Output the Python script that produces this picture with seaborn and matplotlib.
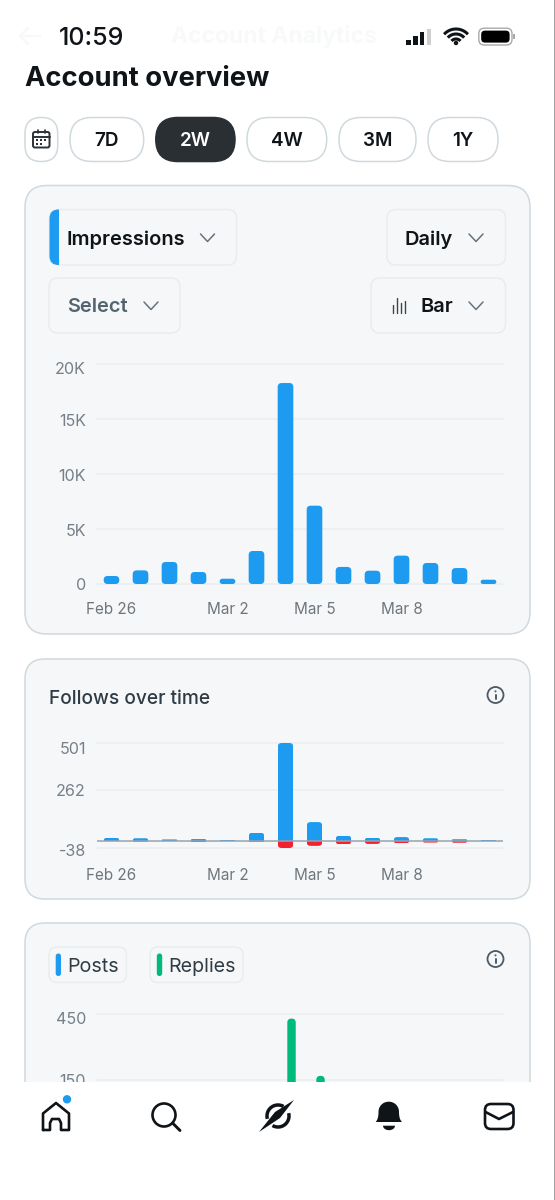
import numpy as np
import pandas as pd
import matplotlib.pyplot as plt
import seaborn as sns
from matplotlib.patches import FancyBboxPatch, Rectangle, Circle, PathPatch
from matplotlib.path import Path
from matplotlib.transforms import Bbox, TransformedBbox, ScaledTranslation

W, H = 555, 1200

days = ['Feb 26', 'Feb 27', 'Feb 28', 'Mar 1', 'Mar 2', 'Mar 3', 'Mar 4',
        'Mar 5', 'Mar 6', 'Mar 7', 'Mar 8', 'Mar 9', 'Mar 10', 'Mar 11']
shown_days = ['Feb 26', 'Mar 2', 'Mar 5', 'Mar 8']

impressions = [730, 1240, 2000, 1090, 480, 3000, 18270, 7120, 1550, 1210, 2580, 1910, 1450, 390]
impression_ticks = [0, 5000, 10000, 15000, 20000]
impression_labels = ['0', '5K', '10K', '15K', '20K']

follows = [15, 12, 6, 8, 4, 41, 501, 95, 26, 15, 18, 12, 7, 3]
unfollows = [-1, -5, -2, -8, -1, -6, -38, -27, -20, -17, -14, -10, -11, -4]
follow_ticks = [-38, 262, 501]

# only the two tallest replies show above the nav bar, the rest is hidden
posts = [0] * 14
replies = [0, 0, 0, 0, 0, 0, 428, 170, 0, 0, 0, 0, 0, 0]
post_ticks = [150, 450]

range_labels = ['7D', '2W', '4W', '3M', '1Y']

BLUE = '#1d9bf0'
RED = '#f4212e'
GREEN = '#00ba7c'
INK = '#0f1419'
CARD = '#f6f7f8'
CARD_EDGE = '#cfd9de'
CHIP_EDGE = '#e8edf0'
GRID = '#ebeff2'
TICK_Y = '#75808a'
TICK_X = '#6e767d'

sns.set_theme(style='white')
plt.rcParams['font.family'] = ['Inter', 'DejaVu Sans']

fig = plt.figure(figsize=(W / 100, H / 100), dpi=100, facecolor='white')


def px_axes(left, top, right, bottom, zorder=1):
    return fig.add_axes([left / W, 1 - bottom / H, (right - left) / W, (bottom - top) / H],
                        zorder=zorder)


def overlay(zorder):
    ax = px_axes(0, 0, W, H, zorder=zorder)
    ax.set_xlim(0, W)
    ax.set_ylim(H, 0)
    ax.axis('off')
    ax.patch.set_visible(False)
    return ax


def box(ax, x0, y0, x1, y1, r, fc='none', ec='none', lw=1.0, **kw):
    p = FancyBboxPatch((x0, y0), x1 - x0, y1 - y0, boxstyle=f'round,pad=0,rounding_size={r}',
                       fc=fc, ec=ec, lw=lw, **kw)
    ax.add_patch(p)
    return p


def chevron(ax, x, y, color='#66737f'):
    ax.plot([x - 7, x, x + 7], [y - 4, y + 3.5, y - 4], color=color, lw=1.1,
            solid_capstyle='round', solid_joinstyle='round')


def info_icon(ax, x, y):
    ax.add_patch(Circle((x, y), 8, fc='none', ec='#4b5a66', lw=1.3))
    ax.plot([x, x], [y - 0.5, y + 4], color='#4b5a66', lw=1.4, solid_capstyle='round')
    ax.add_patch(Circle((x, y - 3.7), 1, fc='#4b5a66', ec='none'))


def round_bars(ax, radius, flat_base=False):
    # seaborn gives square bars, swap each for a rounded one of the same size
    x0, x1 = ax.get_xlim()
    y0, y1 = ax.get_ylim()
    ext = ax.get_window_extent()
    x_per_px = (x1 - x0) / ext.width
    y_per_px = (y1 - y0) / ext.height
    for bar in list(ax.patches):
        x, w, y, h = bar.get_x(), bar.get_width(), bar.get_y(), bar.get_height()
        color = bar.get_facecolor()
        bar.remove()
        if h == 0:
            continue
        lo, hi = min(y, y + h), max(y, y + h)
        r = min(radius, (hi - lo) / y_per_px * (1 if flat_base else 0.5))
        low, high = lo, hi
        if flat_base:
            # push the rounded end past zero and cut it off there
            if h > 0:
                low = lo - r * y_per_px
            else:
                high = hi + r * y_per_px
        p = FancyBboxPatch((x, low), w, high - low,
                           boxstyle=f'round,pad=0,rounding_size={r * x_per_px}',
                           mutation_aspect=y_per_px / x_per_px,
                           fc=color, ec='none', lw=0, zorder=2)
        ax.add_patch(p)
        if flat_base:
            p.set_clip_box(TransformedBbox(Bbox([[x, lo], [x + w, hi]]), ax.transData))


def style_chart(ax, yticks, ylabels, y_shift, ylim, xpad=13, xlabels=True):
    ax.patch.set_visible(False)
    ax.set_xlim(-0.5, 13.5)
    ax.set_ylim(*ylim)
    ax.set_xlabel('')
    ax.set_ylabel('')
    ax.set_yticks(yticks, ylabels)
    if xlabels:
        ax.set_xticks([days.index(d) for d in shown_days], shown_days)
    else:
        ax.set_xticks([])
    ax.tick_params(axis='x', length=0, pad=xpad, labelsize=11, labelcolor=TICK_X)
    ax.tick_params(axis='y', length=0, pad=8, labelsize=11.6, labelcolor=TICK_Y)
    ax.yaxis.grid(True, color=GRID, lw=1.1)
    ax.xaxis.grid(False)
    ax.set_axisbelow(True)
    for gl in ax.get_ygridlines():
        gl.set_clip_on(False)
    for lab, dy in zip(ax.get_yticklabels(), y_shift):
        lab.set_transform(lab.get_transform() + ScaledTranslation(0, -dy / 100, fig.dpi_scale_trans))
    sns.despine(ax=ax, left=True, bottom=True)


ui = overlay(0)

# status bar and faded header
ui.text(59, 38.5, '10:59', fontsize=18, fontweight='medium', color=INK, va='center')
ui.text(171, 37, 'Account Analytics', fontsize=16.5, fontweight='bold', color='#f8f9f9', va='center')
ui.plot([20, 40], [36, 36], color='#f8f8f8', lw=1.6)
ui.plot([28, 20, 28], [28, 36, 44], color='#f8f8f8', lw=1.6)
for i, (top, col) in enumerate(zip([40, 36, 32, 29], [INK, INK, INK, '#cfcfcf'])):
    ui.add_patch(Rectangle((406 + i * 6.9, top), 4.6, 45 - top, fc=col, ec='none'))
for rad in [16, 11, 6]:
    t = np.radians(np.linspace(-48, 48, 30))
    ui.plot(456 + rad * np.sin(t), 45 - rad * np.cos(t), color=INK, lw=2.2, solid_capstyle='butt')
ui.add_patch(Circle((456, 43), 2.2, fc=INK, ec='none'))
box(ui, 478.8, 28.2, 512, 45, 5.5, ec='#a9a9a9', lw=1.0)
box(ui, 481.2, 30.6, 509.6, 42.6, 3.8, fc='black')
ui.add_patch(Rectangle((513.4, 34), 1.4, 5, fc='#a9a9a9', ec='none'))

ui.text(25, 79.5, 'Account overview', fontsize=19.7, fontweight='bold', color=INK, va='center')

# range pills
box(ui, 25, 117.5, 57.7, 161.5, 16, fc='white', ec=CARD_EDGE, lw=1.1)
box(ui, 33, 132, 49.5, 147.5, 2, ec='#2b3238', lw=1.4)
ui.plot([33, 49.5], [136.5, 136.5], color='#2b3238', lw=1.4)
ui.plot([37.5, 37.5], [130, 133], color='#2b3238', lw=1.2)
ui.plot([45, 45], [130, 133], color='#2b3238', lw=1.2)
ui.scatter([37, 41, 45, 37, 41], [140, 140, 140, 144, 144], s=2.2, color='#2b3238', lw=0, marker='s')
pill_x = [(70, 143.7), (155.8, 235), (247, 326.7), (339, 416), (428, 498)]
for lab, (a, b) in zip(range_labels, pill_x):
    active = lab == '2W'
    box(ui, a, 117.5, b, 161.5, 22, fc='#292f33' if active else 'white',
        ec='#292f33' if active else CARD_EDGE, lw=1.1)
    ui.text((a + b) / 2, 141, lab, fontsize=13.6, fontweight='semibold',
            color='white' if active else INK, ha='center', va='center')

# cards
box(ui, 25, 185.5, 530, 634, 22, fc=CARD, ec=CARD_EDGE, lw=1.1)
box(ui, 25, 659, 530, 899, 20, fc=CARD, ec=CARD_EDGE, lw=1.1)
box(ui, 25, 923, 530, 1300, 20, fc=CARD, ec=CARD_EDGE, lw=1.1)

# dropdowns
box(ui, 49.5, 209.5, 236.5, 265, 9, ec=CHIP_EDGE, lw=1.1)
tab = box(ui, 49.5, 209.5, 236.5, 265, 9, fc=BLUE)
tab.set_clip_path(Rectangle((49, 205), 9.5, 65, transform=ui.transData))
ui.text(67, 239.5, 'Impressions', fontsize=14.4, fontweight='semibold', color=INK, va='center')
chevron(ui, 207.5, 238)
box(ui, 387, 209.5, 505.5, 265, 9, ec=CHIP_EDGE, lw=1.1)
ui.text(405, 239.5, 'Daily', fontsize=14.4, fontweight='semibold', color=INK, va='center')
chevron(ui, 476, 238)
box(ui, 49, 278, 180, 333, 9, ec=CHIP_EDGE, lw=1.1)
ui.text(67, 307.5, 'Select', fontsize=14.4, fontweight='semibold', color='#536471', va='center')
chevron(ui, 151, 306)
box(ui, 371, 278, 505.5, 333, 9, ec=CHIP_EDGE, lw=1.1)
for dx, top in zip([393, 397, 401, 405], [305, 298, 303, 301]):
    ui.plot([dx, dx], [top, 313], color='#3c4750', lw=1.0)
ui.text(420.5, 307.5, 'Bar', fontsize=14.4, fontweight='semibold', color=INK, va='center')
chevron(ui, 476, 306)

ui.text(49, 699.5, 'Follows over time', fontsize=13.8, fontweight='medium', color='#2f3b45', va='center')
info_icon(ui, 495.5, 695)

box(ui, 49, 947, 126.4, 982.5, 8, ec=CHIP_EDGE, lw=1.1)
box(ui, 55.7, 953.5, 61, 976, 2.6, fc=BLUE)
ui.text(67, 967, 'Posts', fontsize=14.2, color='#2f3b45', va='center')
box(ui, 150, 947, 243, 982.5, 8, ec=CHIP_EDGE, lw=1.1)
box(ui, 156.8, 953.5, 162.2, 976, 2.6, fc=GREEN)
ui.text(168, 967, 'Replies', fontsize=14.2, color='#2f3b45', va='center')
info_icon(ui, 495.5, 959)

# impressions chart
ax1 = px_axes(97, 364, 503, 584)
df1 = pd.DataFrame({'day': days, 'value': impressions})
sns.barplot(data=df1, x='day', y='value', order=days, color=BLUE, saturation=1, width=0.54, ax=ax1)
style_chart(ax1, impression_ticks, impression_labels, [0, 0.5, 1, 0.5, 4], (0, 20000))
round_bars(ax1, 4)

# follows chart
ax2 = px_axes(97, 743, 503, 848)
df2 = pd.DataFrame({'day': days * 2, 'value': follows + unfollows,
                    'kind': ['follow'] * 14 + ['unfollow'] * 14})
sns.barplot(data=df2, x='day', y='value', order=days, hue='kind', palette=[BLUE, RED], dodge=False,
            saturation=1, width=0.54, legend=False, ax=ax2)
style_chart(ax2, follow_ticks, [str(v) for v in follow_ticks], [2, 0.7, 5], (-38, 501), xpad=14.5)
round_bars(ax2, 4, flat_base=True)
ax2.axhline(0, color='#94a4b1', lw=1.1, zorder=3)

# posts and replies chart, runs on under the nav bar
ax3 = px_axes(97, 1013.7, 503, 1113.6)
df3 = pd.DataFrame({'day': days * 2, 'value': posts + replies,
                    'kind': ['Posts'] * 14 + ['Replies'] * 14})
sns.barplot(data=df3, x='day', y='value', order=days, hue='kind', palette=[BLUE, GREEN], saturation=1,
            width=0.83, gap=0.3, legend=False, ax=ax3)
style_chart(ax3, post_ticks, [str(v) for v in post_ticks], [0, 4], (0, 450), xlabels=False)
round_bars(ax3, 4)

# nav bar on top of everything
nav = overlay(5)
nav.add_patch(Rectangle((0, 1081.7), W, H - 1081.7, fc='white', ec='none'))
home = [(43, 1130), (43, 1113.5), (56, 1103), (69, 1113.5), (69, 1130), (61, 1130), (61, 1123),
        (59, 1119), (52, 1119), (50, 1123), (50, 1130), (43, 1130)]
nav.plot(*zip(*home), color=INK, lw=1.9, solid_joinstyle='round')
nav.add_patch(Circle((67, 1099.3), 4.2, fc=BLUE, ec='none'))
nav.add_patch(Circle((164, 1115), 11.5, fc='none', ec=INK, lw=1.9))
nav.plot([172.5, 180], [1123, 1130.5], color=INK, lw=2.1)
# grok mark
for a, b in [(165, 300), (345, 480)]:
    t = np.radians(np.linspace(a, b, 40))
    nav.plot(278 + 11 * np.cos(t), 1116 + 11 * np.sin(t), color=INK, lw=2.5, solid_capstyle='butt')
nav.add_patch(plt.Polygon([(294, 1100), (280, 1118), (259, 1132), (275, 1112)], fc=INK, ec='none'))
# bell
bell = Path([(375.7, 1122), (377.5, 1120), (378.5, 1117), (378.5, 1112),
             (378.5, 1106), (383, 1101.7), (388.8, 1101.7),
             (394.5, 1101.7), (399, 1106), (399, 1112),
             (399, 1117), (400, 1120), (402, 1122), (375.7, 1122)],
            [Path.MOVETO] + [Path.CURVE4] * 12 + [Path.CLOSEPOLY])
nav.add_patch(PathPatch(bell, fc=INK, ec='none'))
t = np.radians(np.linspace(0, 180, 20))
nav.fill(389 + 6 * np.cos(t), 1125.7 + 4.5 * np.sin(t), color=INK, lw=0)
# mail
box(nav, 485, 1104, 513.5, 1129, 6, ec=INK, lw=1.9)
nav.plot([485.5, 499, 513], [1112, 1119, 1112], color=INK, lw=1.9, solid_joinstyle='round')
# screenshot edge
nav.add_patch(Rectangle((554, 0), 1, H, fc='#a3a3a3', ec='none'))

fig.savefig('out.png', dpi=100)
plt.close(fig)
